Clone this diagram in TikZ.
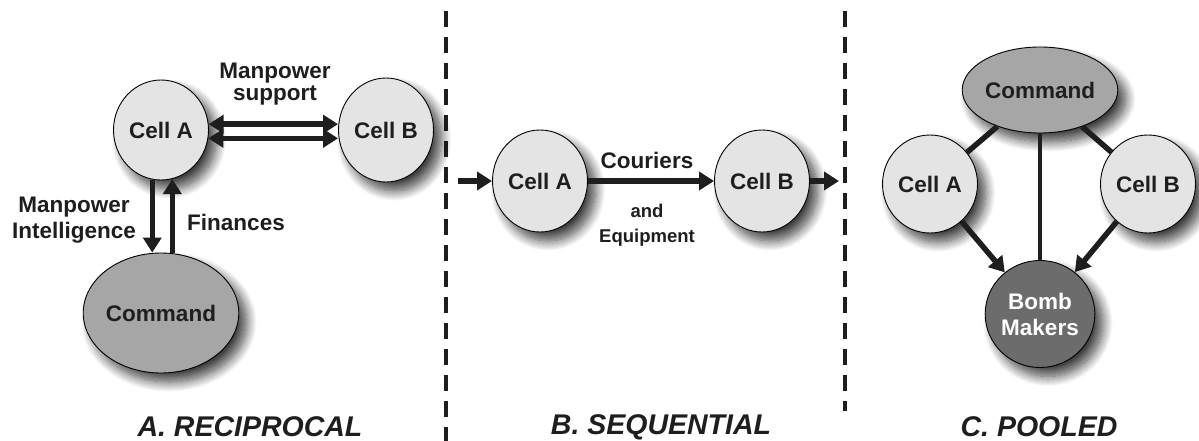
\documentclass[tikz,border=0pt]{standalone}
\usepackage{fontspec}
\setmainfont{Liberation Sans}
\usetikzlibrary{arrows.meta,shapes.geometric,shadows.blur}
\definecolor{cellfill}{HTML}{E4E4E4}
\definecolor{cmdfill}{HTML}{A6A6A6}
\definecolor{bombfill}{HTML}{6C6C6C}
\definecolor{ink}{HTML}{1E1E1E}
\tikzset{
  every node/.style={text=ink},
  blob/.style={ellipse, draw=black, line width=0.9pt, inner sep=0pt,
    font=\fontsize{22.5}{24}\selectfont\bfseries,
    blur shadow={shadow xshift=8pt, shadow yshift=-9pt, shadow blur radius=10pt, shadow blur steps=14, shadow opacity=75}},
  cell/.style={blob, fill=cellfill, minimum width=95pt, minimum height=100pt},
  cmd/.style={blob, fill=cmdfill},
  bomb/.style={blob, fill=bombfill, text=white, align=center,
    font=\fontsize{22.5}{26}\selectfont\bfseries},
  lbl/.style={font=\fontsize{22.5}{22}\selectfont\bfseries, align=center, inner sep=0pt},
  smalllbl/.style={font=\fontsize{18.5}{25}\selectfont\bfseries, align=center, inner sep=0pt},
  ttl/.style={font=\fontsize{28.5}{30}\selectfont\bfseries\itshape, inner sep=0pt},
  arr/.style={draw=ink, line width=5.5pt, -{Triangle[length=15pt,width=18pt]}},
  darr/.style={draw=ink, line width=5.5pt, {Triangle[length=15pt,width=18pt]}-{Triangle[length=15pt,width=18pt]}},
  link/.style={draw=ink, line width=5.5pt},
  thinlink/.style={draw=ink, line width=4.5pt},
  divider/.style={draw=ink, line width=4.5pt, dash pattern=on 16pt off 10pt}
}
\begin{document}
\begin{tikzpicture}[x=1pt,y=-1pt]
\useasboundingbox (0,0) rectangle (1199,441);

% dividers
\coordinate (d1t) at (446,11);
\coordinate (d1b) at (446,441);
\coordinate (d2t) at (845,11);
\coordinate (d2b) at (845,411);
\draw[divider] (d1t) -- (d1b);
\draw[divider] (d2t) -- (d2b);

% ---------- A. Reciprocal ----------
\node[cell, minimum height=100pt] (aA) at (161,130) {Cell A};
\node[cell, minimum height=104pt] (aB) at (386,130) {Cell B};
\node[cmd, minimum width=132pt, minimum height=120pt] (aC) at (161,313) {Command};

\draw[darr] (aA.7) -- (aA.7 -| aB.west);
\draw[darr] (aA.-10) -- (aA.-10 -| aB.west);
\draw[arr] (aA.260) -- (aA.260 |- aC.north);
\draw[arr] (aA.283 |- aC.north) -- (aA.283);

\node[lbl] (lms) at (275,84) {Manpower\\support};
\node[lbl, font=\fontsize{22.5}{26}\selectfont\bfseries] (lmi) at (74,220) {Manpower\\Intelligence};
\node[lbl] (lfi) at (236,222) {Finances};

% ---------- B. Sequential ----------
\node[cell, minimum height=102pt] (bA) at (540,181) {Cell A};
\node[cell, minimum height=102pt] (bB) at (762,181) {Cell B};
\coordinate (bin) at (458,181);
\coordinate (bout) at (839,181);
\draw[arr] (bin) -- (bA);
\draw[arr] (bA) -- (bB);
\draw[arr] (bB) -- (bout);
\node[lbl] (lco) at (647,160) {Couriers};
\node[smalllbl] (leq) at (647,225) {and\\Equipment};

% ---------- C. Pooled ----------
\node[cmd, minimum width=130pt, minimum height=86pt] (cC) at (1040,90) {Command};
\node[cell, minimum height=98pt] (cA) at (930,184) {Cell A};
\node[cell, minimum height=98pt] (cB) at (1148,184) {Cell B};
\node[bomb, minimum width=97pt, minimum height=107pt] (cM) at (1040,314) {Bomb\\Makers};

\draw[link] (cC) -- (cA);
\draw[link] (cC) -- (cB);
\draw[thinlink] (cC.south) -- (cM.north);
\draw[arr] (cA) -- (cM);
\draw[arr] (cB) -- (cM);

% titles
\node[ttl] (tA) at (250,427) {A. RECIPROCAL};
\node[ttl] (tB) at (661,427) {B. SEQUENTIAL};
\node[ttl] (tC) at (1039,427) {C. POOLED};
\end{tikzpicture}
\end{document}
